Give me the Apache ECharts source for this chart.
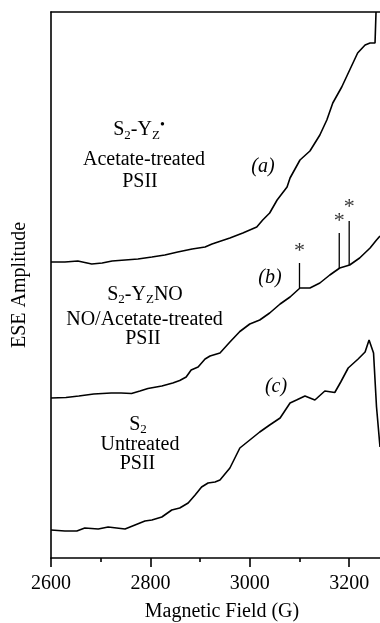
<!DOCTYPE html>
<html>
<head>
<meta charset="utf-8">
<script src="https://cdn.jsdelivr.net/npm/echarts@6/dist/echarts.min.js"></script>
<style>
  html, body { margin: 0; padding: 0; background: #fff; }
  #chart { width: 380px; height: 623px; }
</style>
</head>
<body>
<div id="chart"></div>
<script>
// ESE-detected EPR traces; amplitude in arbitrary units, each trace offset vertically.
// (a) S2-YZ• in acetate-treated PSII
const fieldA = [2600, 2628, 2654, 2682, 2703, 2723, 2749, 2775, 2803, 2829, 2855, 2884, 2910, 2924, 2936, 2960, 2986, 3014, 3026, 3040,
                3055, 3075, 3081, 3101, 3121, 3141, 3155, 3167, 3185, 3201, 3217, 3232, 3242, 3252, 3254];
const ampA   = [296, 296, 297, 294, 295, 297, 298, 299, 301, 303, 306, 309, 311, 314, 316, 320, 325, 331, 338, 345,
                358, 371, 380, 398, 407, 423, 438, 455, 471, 488, 505, 513, 515, 515, 546];

// (b) S2-YZNO in NO/acetate-treated PSII
const fieldB = [2600, 2630, 2656, 2686, 2721, 2741, 2762, 2779, 2795, 2823, 2845, 2859, 2872, 2882, 2896, 2910, 2920, 2940, 2960, 2980,
                3000, 3020, 3040, 3061, 3081, 3101, 3121, 3141, 3161, 3181, 3201, 3221, 3242, 3255, 3262];
const ampB   = [160, 160.5, 162, 164, 165, 165, 164.5, 167, 169.5, 172, 175, 177.5, 181, 188, 191, 199, 202, 205, 216, 226.5,
                234, 238, 245, 254, 261, 270, 270, 275, 283, 290, 293, 300, 310, 318, 322];

// (c) S2 in untreated PSII
const fieldC = [2600, 2628, 2652, 2668, 2695, 2715, 2749, 2769, 2789, 2803, 2823, 2843, 2859, 2876, 2890, 2903, 2916, 2930, 2940, 2960,
                2980, 3000, 3020, 3040, 3061, 3081, 3094, 3111, 3131, 3151, 3171, 3183, 3198, 3218, 3232, 3240, 3249, 3255, 3262];
const ampC   = [28, 27, 27, 30, 29, 31, 29, 33, 37, 38, 41, 48, 50, 55, 63, 71, 75, 76, 78, 90,
                110, 118, 126, 133, 140, 155, 158, 162, 158, 167, 165.5, 176, 190, 199, 206, 218, 205, 151, 111];

// Features marked with an asterisk on trace (b)
const markField = [3100, 3180, 3200];
const markLow   = [270, 290, 293];
const markHigh  = [295, 325, 337];
const starAmp   = [311, 341, 355];

// Axis ticks
const majorTicks = [2600, 2800, 3000, 3200];
const minorTicks = [2700, 2900, 3100];
const fieldMin = 2600, fieldMax = 3262;
const ampMin = 0, ampMax = 546;

const SERIF = '"Liberation Serif", "Times New Roman", serif';
const pairs = (xs, ys) => xs.map((x, i) => [x, ys[i]]);

const chart = echarts.init(document.getElementById('chart'), null, { renderer: 'canvas' });

const traceStyle = { color: '#000', width: 1.6 };
const traceSeries = [[fieldA, ampA], [fieldB, ampB], [fieldC, ampC]].map(([xs, ys]) => ({
  type: 'line',
  data: pairs(xs, ys),
  showSymbol: false,
  symbol: 'none',
  lineStyle: traceStyle,
  itemStyle: { color: '#000' },
  silent: true,
  z: 3
}));

const markSeries = markField.map((f, i) => ({
  type: 'line',
  data: [[f, markLow[i]], [f, markHigh[i]]],
  showSymbol: false,
  symbol: 'none',
  lineStyle: { color: '#000', width: 1.3 },
  silent: true,
  z: 3
}));

const starSeries = {
  type: 'scatter',
  data: pairs(markField, starAmp),
  symbolSize: 0,
  silent: true,
  label: {
    show: true,
    position: 'inside',
    formatter: '*',
    color: '#000',
    fontFamily: SERIF,
    fontSize: 22,
    offset: [0, 4]
  },
  z: 4
};

// Rich-text styles for sample descriptions (subscripts and radical dot)
const font = (size, style) => (style ? style + ' ' : '') + size + 'px ' + SERIF;
const rich = {
  m: { font: font(20), fill: '#000', lineHeight: 24 },
  s: { font: font(13), fill: '#000', lineHeight: 12, verticalAlign: 'bottom' },
  p: { font: font(14), fill: '#000', lineHeight: 12, verticalAlign: 'top' }
};

const textRows = [
  { x: 139, y: 130,   text: '{m|S}{s|2}{m|-Y}{s|Z}{p|•}' },
  { x: 144, y: 160,   text: '{m|Acetate-treated}' },
  { x: 140, y: 181.5, text: '{m|PSII}' },
  { x: 145, y: 294.5, text: '{m|S}{s|2}{m|-Y}{s|Z}{m|NO}' },
  { x: 144.5, y: 320, text: '{m|NO/Acetate-treated}' },
  { x: 143, y: 339,   text: '{m|PSII}' },
  { x: 138, y: 424.5, text: '{m|S}{s|2}' },
  { x: 140, y: 444.5, text: '{m|Untreated}' },
  { x: 137.5, y: 464, text: '{m|PSII}' }
];
const traceTags = [
  { x: 263, y: 167, text: '(a)' },
  { x: 270, y: 278, text: '(b)' },
  { x: 276, y: 387, text: '(c)' }
];

const graphics = textRows.map(r => ({
  type: 'text',
  silent: true,
  style: {
    x: r.x, y: r.y, text: r.text, rich: rich,
    font: font(20), fill: '#000',
    align: 'center', verticalAlign: 'middle'
  }
})).concat(traceTags.map(t => ({
  type: 'text',
  silent: true,
  style: {
    x: t.x, y: t.y, text: t.text,
    font: font(20, 'italic'), fill: '#000',
    align: 'center', verticalAlign: 'middle'
  }
})));

const axisLine = { show: true, lineStyle: { color: '#000', width: 1.6 } };

chart.setOption({
  animation: false,
  backgroundColor: '#fff',
  grid: { left: 51, top: 12, width: 329, height: 546, containLabel: false, outerBoundsMode: 'none' },
  xAxis: [
    {
      type: 'value', position: 'bottom', min: fieldMin, max: fieldMax,
      axisLine: axisLine,
      axisTick: { show: true, customValues: majorTicks, length: 9, lineStyle: { color: '#000', width: 1.6 } },
      axisLabel: { customValues: majorTicks, margin: 16, color: '#000', fontFamily: SERIF, fontSize: 20,
                   formatter: v => String(v) },
      splitLine: { show: false },
      name: 'Magnetic Field (G)', nameLocation: 'middle', nameGap: 44,
      nameTextStyle: { color: '#000', fontFamily: SERIF, fontSize: 20, padding: [0, 0, 0, 13] }
    },
    {
      type: 'value', position: 'bottom', min: fieldMin, max: fieldMax,
      axisLine: { show: false },
      axisTick: { show: true, customValues: minorTicks, length: 4, lineStyle: { color: '#000', width: 1.6 } },
      axisLabel: { show: false },
      splitLine: { show: false }
    },
    {
      type: 'value', position: 'top', min: fieldMin, max: fieldMax,
      axisLine: axisLine,
      axisTick: { show: false },
      axisLabel: { show: false },
      splitLine: { show: false }
    }
  ],
  yAxis: {
    type: 'value', min: ampMin, max: ampMax,
    axisLine: axisLine,
    axisTick: { show: false },
    axisLabel: { show: false },
    splitLine: { show: false },
    name: 'ESE Amplitude', nameLocation: 'middle', nameGap: 21, nameRotate: 90,
    nameTextStyle: { color: '#000', fontFamily: SERIF, fontSize: 20 }
  },
  series: traceSeries.concat(markSeries, [starSeries]),
  graphic: graphics
});
</script>
</body>
</html>
